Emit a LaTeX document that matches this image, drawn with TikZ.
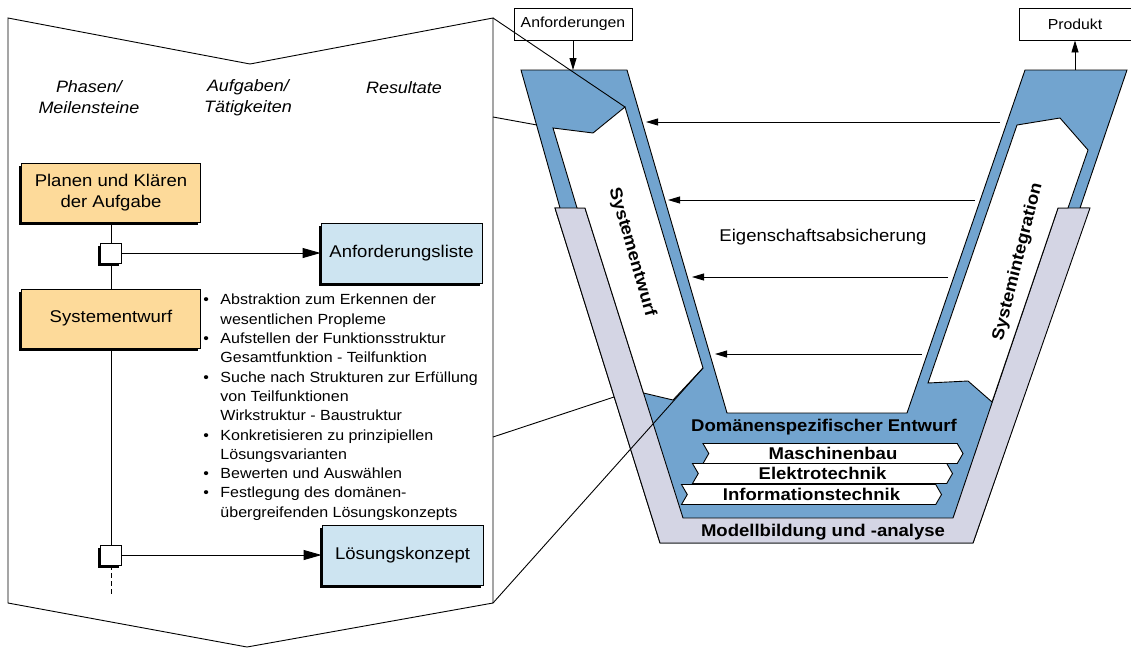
\documentclass[tikz,border=0pt]{standalone}
\usepackage{fontspec}
\setmainfont{Liberation Sans}[FakeStretch=1.09]
\usetikzlibrary{arrows.meta,shapes.symbols,shadows}
\definecolor{vblue}{RGB}{114,164,207}
\definecolor{vgray}{RGB}{212,213,228}
\definecolor{phasefill}{RGB}{253,218,154}
\definecolor{resfill}{RGB}{205,228,241}
\newcommand\FntBox{\fontsize{17}{21}\selectfont}
\newcommand\FntHdr{\itshape\fontsize{16.5}{21}\selectfont}
\newcommand\FntBul{\fontsize{14.7}{19.3}\selectfont}
\newcommand\FntV{\bfseries\fontsize{17}{20}\selectfont}
\newcommand\FntTop{\fontsize{14.5}{17}\selectfont}
\begin{document}
\begin{tikzpicture}[x=1pt,y=-1pt,line width=0.9pt,
  shad/.style={drop shadow={shadow xshift=-2.5pt,shadow yshift=-2.5pt,fill=black,opacity=1}},
  phase/.style={draw,fill=phasefill,shad,minimum width=179pt,minimum height=59pt,align=center,font=\FntBox,inner sep=0pt},
  result/.style={draw,fill=resfill,shad,minimum width=161pt,minimum height=60pt,align=center,font=\FntBox,inner sep=0pt},
  gate/.style={draw,fill=white,shad,minimum width=21pt,minimum height=20pt,inner sep=0pt},
  hdr/.style={align=center,font=\FntHdr,inner sep=0pt},
  topbox/.style={draw,fill=white,minimum height=32pt,font=\FntTop,inner sep=0pt},
  strip/.style={draw,fill=white,shape=signal,signal to=east,signal from=west,signal pointer angle=120,font=\FntV,inner sep=0pt,minimum height=20pt,minimum width=260pt},
  vlabel/.style={font=\FntV,inner sep=0pt},
  bigarrow/.style={-{Triangle[length=18pt,width=10pt]}},
  smallarrow/.style={-{Triangle[length=12pt,width=7pt]}},
  thin/.style={line width=0.9pt}
]
\useasboundingbox (0,0) rectangle (1131,648);
\fill[white] (0,0) rectangle (1131,648);

% ---------- left panel ----------
\coordinate (pTL) at (8,18);
\coordinate (pTV) at (250,64);
\coordinate (pTR) at (493,18);
\coordinate (pBR) at (493,603);
\coordinate (pBV) at (247,647);
\coordinate (pBL) at (8,603);
\draw (pTL) -- (pTV) -- (pTR) -- (pBR) -- (pBV) -- (pBL) -- cycle;

\node[hdr] (h1) at (89,97.5) {Phasen/\\Meilensteine};
\node[hdr] (h2) at (248,97.5) {Aufgaben/\\Tätigkeiten};
\node[hdr,anchor=base] (h3) at (404,93) {Resultate};

\node[phase] (plan) at (111,192.5) {Planen und Klären\\der Aufgabe};
\node[phase] (sys) at (111,318.5) {Systementwurf};
\node[gate] (g1) at (111,253) {};
\node[gate] (g2) at (111,555) {};
\node[result] (al) at (401.5,253) {Anforderungsliste};
\node[result] (lk) at (402.5,555) {Lösungskonzept};
\coordinate (dend) at (111,594);

\draw (plan) -- (g1);
\draw (g1) -- (sys);
\draw (sys) -- (g2);
\draw[dash pattern=on 5pt off 3pt] (g2) -- (dend);
\draw[bigarrow] (g1) -- (al);
\draw[bigarrow] (g2) -- (lk);

\node[anchor=north west,inner sep=0pt,font=\FntBul] (tasks) at (203,291) {%
\begin{tabular}{@{}l@{}l@{}}
\makebox[17pt][l]{\textbullet} & Abstraktion zum Erkennen der\\
 & wesentlichen Propleme\\
\textbullet & Aufstellen der Funktionsstruktur\\
 & Gesamtfunktion - Teilfunktion\\
\textbullet & Suche nach Strukturen zur Erfüllung\\
 & von Teilfunktionen\\
 & Wirkstruktur - Baustruktur\\
\textbullet & Konkretisieren zu prinzipiellen\\
 & Lösungsvarianten\\
\textbullet & Bewerten und Auswählen\\
\textbullet & Festlegung des domänen-\\
 & übergreifenden Lösungskonzepts
\end{tabular}};

% ---------- V model ----------
\draw[fill=vblue] (521,70) -- (627,70) -- (727,413) -- (907,413) -- (1025,70) -- (1127,70)
  -- (1080,208) -- (1089,208) -- (973,543) -- (660,543) -- (555,208) -- (560,208) -- cycle;
\draw[fill=vgray] (555,208) -- (585,208) -- (683,518) -- (953,518) -- (1058,208) -- (1090,208)
  -- (973,543) -- (660,543) -- cycle;
\draw[fill=white] (553,128) -- (593,133) -- (625,107) -- (703,368) -- (673,400) -- (643.5,393)
  -- (585,208) -- (577,208) -- cycle;
\draw[fill=white] (1017,125) -- (1060,118) -- (1088,150) -- (1068,208) -- (1058,208) -- (992,402)
  -- (968,381) -- (928,383) -- cycle;

\node[vlabel,rotate=-74] (se) at (632,252) {Systementwurf};
\node[vlabel,rotate=76] (si) at (1018,262) {Systemintegration};
\node[font=\FntBox,inner sep=0pt] (ea) at (823,237) {Eigenschaftsabsicherung};
\node[vlabel] (dse) at (824,427) {Domänenspezifischer Entwurf};
\node[vlabel] (mba) at (823,532) {Modellbildung und -analyse};

\node[strip] (mb) at (833,453.5) {Maschinenbau};
\node[strip] (et) at (822.5,473.5) {Elektrotechnik};
\node[strip] (it) at (811.5,494.5) {Informationstechnik};

\node[topbox,minimum width=118pt] (anf) at (573,24) {Anforderungen};
\node[topbox,minimum width=112pt] (prod) at (1075,24) {Produkt};
\coordinate (inL) at (573,70);
\coordinate (outR) at (1075,70);
\draw[smallarrow] (anf) -- (inL);
\draw[smallarrow] (outR) -- (prod);

% property assurance arrows
\coordinate (r1) at (1000,122); \coordinate (l1) at (646,122);
\coordinate (r2) at (975,200);  \coordinate (l2) at (668,200);
\coordinate (r3) at (948,277);  \coordinate (l3) at (692,277);
\coordinate (r4) at (922,354);  \coordinate (l4) at (715,354);
\draw[smallarrow] (r1) -- (l1);
\draw[smallarrow] (r2) -- (l2);
\draw[smallarrow] (r3) -- (l3);
\draw[smallarrow] (r4) -- (l4);

% zoom lines from panel to V
\coordinate (pR1) at (493,117);
\coordinate (pR2) at (493,437);
\coordinate (vA) at (625,107);
\coordinate (vB) at (537,125);
\coordinate (vC) at (614,397);
\coordinate (vD) at (703,368);
\draw (pTR) -- (vA);
\draw (pR1) -- (vB);
\draw (pR2) -- (vC);
\draw (pBR) -- (vD);
\end{tikzpicture}
\end{document}
